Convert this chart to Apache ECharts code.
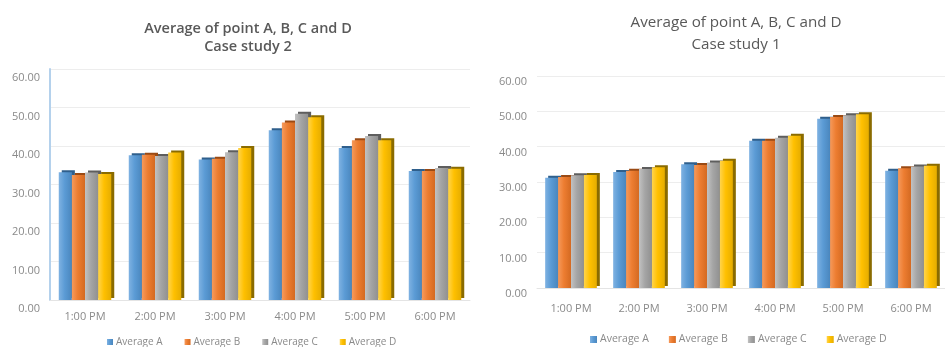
<!DOCTYPE html>
<html>
<head>
<meta charset="utf-8">
<script src="https://cdn.jsdelivr.net/npm/echarts@6/dist/echarts.min.js"></script>
<style>
  html, body { margin: 0; padding: 0; background: #ffffff; overflow: hidden; }
  #chart { width: 945px; height: 347px; }
</style>
</head>
<body>
<div id="chart"></div>
<script>
// Hourly averages at measuring points A–D for the two case studies
const hours = ['1:00 PM', '2:00 PM', '3:00 PM', '4:00 PM', '5:00 PM', '6:00 PM'];
const seriesNames = ['Average A', 'Average B', 'Average C', 'Average D'];

// Case study 2 (left panel)
const case2A = [33.2, 37.6, 36.5, 44.1, 39.5, 33.5];
const case2B = [32.5, 37.7, 36.7, 46.1, 41.5, 33.5];
const case2C = [33.1, 37.4, 38.4, 48.4, 42.6, 34.3];
const case2D = [32.7, 38.3, 39.5, 47.5, 41.5, 34.1];

// Case study 1 (right panel)
const case1A = [31.2, 32.8, 35.0, 41.7, 47.9, 33.2];
const case1B = [31.4, 33.2, 34.8, 41.7, 48.4, 33.9];
const case1C = [31.9, 33.7, 35.5, 42.5, 48.9, 34.4];
const case1D = [32.0, 34.2, 36.0, 43.1, 49.2, 34.6];

// Value axis range
const yMin = 0, yMax = 60, yStep = 10;

const titleLine1 = 'Average of point A, B, C and D';

// Office-style palette: light edge, face colour, shaded edge, extrusion colour
const palette = [
  { light: '#7fb2e2', base: '#5b9bd5', dark: '#4a86bd', side: '#2f5f8c' },
  { light: '#f59a5c', base: '#ed7d31', dark: '#d46a22', side: '#9a4a14' },
  { light: '#c2c2c2', base: '#a5a5a5', dark: '#909090', side: '#5e5e5e' },
  { light: '#ffd44d', base: '#ffc000', dark: '#e6ad00', side: '#8a6b00' }
];

function barStyle(p) {
  return {
    color: {
      type: 'linear', x: 0, y: 0, x2: 1, y2: 0,
      colorStops: [
        { offset: 0, color: p.light },
        { offset: 0.45, color: p.base },
        { offset: 1, color: p.dark }
      ]
    },
    shadowColor: p.side,
    shadowBlur: 0,
    shadowOffsetX: 3,
    shadowOffsetY: -2
  };
}

function makeSeries(dataSets, axisIndex) {
  return dataSets.map((d, i) => ({
    name: seriesNames[i],
    type: 'bar',
    xAxisIndex: axisIndex,
    yAxisIndex: axisIndex,
    data: d,
    barGap: '0%',
    barCategoryGap: axisIndex === 0 ? '25%' : '24%',
    itemStyle: barStyle(palette[i]),
    emphasis: { disabled: true },
    animation: false
  }));
}

const labelColor = '#8a8a8a';
const fontFamily = '"Open Sans", "Liberation Sans", sans-serif';

const chart = echarts.init(document.getElementById('chart'), null, { renderer: 'canvas' });

chart.setOption({
  backgroundColor: '#ffffff',
  animation: false,
  color: palette.map(p => p.base),
  title: [
    {
      text: titleLine1 + '\nCase study 2',
      left: 243, top: 15, textAlign: 'center',
      textStyle: { fontFamily, fontSize: 14.5, fontWeight: 600, color: '#595959', lineHeight: 18 }
    },
    {
      text: titleLine1 + '\nCase study 1',
      left: 731, top: 7, textAlign: 'center',
      textStyle: { fontFamily, fontSize: 15.2, fontWeight: 'normal', color: '#595959', lineHeight: 21.6 }
    }
  ],
  legend: [
    {
      data: seriesNames, left: 107, top: 337, padding: 0,
      icon: 'rect', itemWidth: 6, itemHeight: 6, itemGap: 22,
      textStyle: { fontFamily, fontSize: 10, color: labelColor, padding: [0, 0, 0, -2] },
      selectedMode: false
    },
    {
      data: seriesNames, left: 590, top: 334, padding: 0,
      icon: 'rect', itemWidth: 7, itemHeight: 7, itemGap: 20,
      textStyle: { fontFamily, fontSize: 10.5, color: labelColor, padding: [0, 0, 0, -2] },
      selectedMode: false
    }
  ],
  grid: [
    { left: 50, top: 69, width: 420, height: 231 },
    { left: 537, top: 76, width: 416, height: 212 }
  ],
  xAxis: [
    {
      type: 'category', gridIndex: 0, data: hours,
      axisLine: { lineStyle: { color: '#e4e4e4' } },
      axisTick: { show: false },
      axisLabel: { fontFamily, fontSize: 11, color: labelColor, margin: 11 }
    },
    {
      type: 'category', gridIndex: 1, data: hours,
      axisLine: { lineStyle: { color: '#e4e4e4' } },
      axisTick: { show: false },
      axisLabel: { fontFamily, fontSize: 11, color: labelColor, margin: 15 }
    }
  ],
  yAxis: [
    {
      type: 'value', gridIndex: 0, min: yMin, max: yMax, interval: yStep,
      axisLine: { show: true, lineStyle: { color: '#b4d1ec', width: 2 } },
      axisTick: { show: false },
      splitLine: { lineStyle: { color: '#ededed' } },
      axisLabel: {
        fontFamily, fontSize: 11, color: labelColor, margin: 10,
        verticalAlign: 'top', lineHeight: 18,
        formatter: v => v.toFixed(2)
      }
    },
    {
      type: 'value', gridIndex: 1, min: yMin, max: yMax, interval: yStep,
      axisLine: { show: false },
      axisTick: { show: false },
      splitLine: { lineStyle: { color: '#ededed' } },
      axisLabel: {
        fontFamily, fontSize: 11, color: labelColor, margin: 10,
        verticalAlign: 'top', lineHeight: 12,
        formatter: v => v.toFixed(2)
      }
    }
  ],
  series: [
    ...makeSeries([case2A, case2B, case2C, case2D], 0),
    ...makeSeries([case1A, case1B, case1C, case1D], 1)
  ]
});
</script>
</body>
</html>
